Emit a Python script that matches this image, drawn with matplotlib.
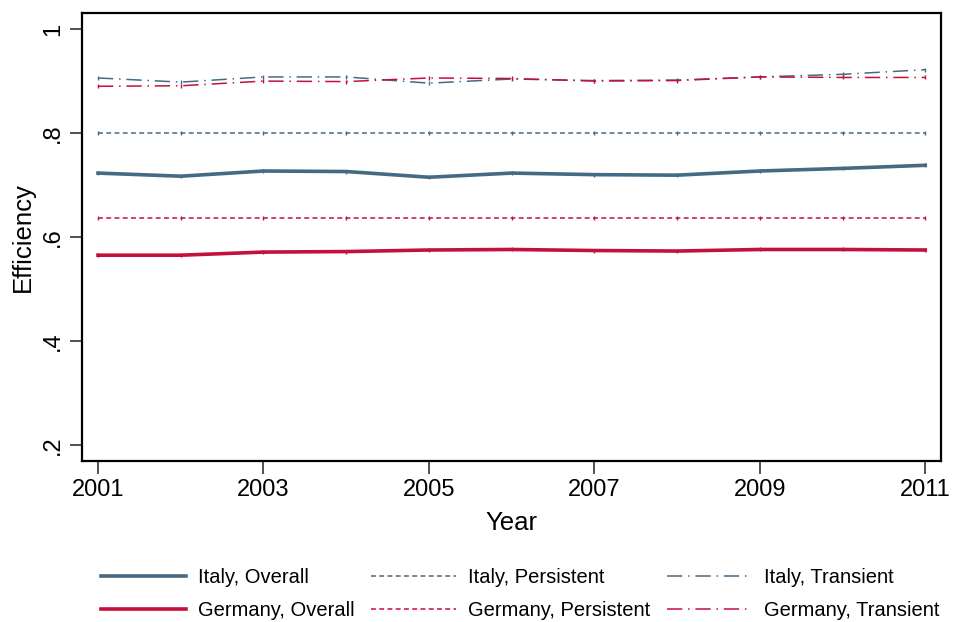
import matplotlib.pyplot as plt
from matplotlib.lines import Line2D

plt.rcParams['font.family'] = ['Liberation Sans', 'DejaVu Sans']

years = [2001, 2002, 2003, 2004, 2005, 2006, 2007, 2008, 2009, 2010, 2011]

italy_overall = [0.723, 0.717, 0.727, 0.726, 0.715, 0.723, 0.720, 0.719, 0.727, 0.732, 0.738]
germany_overall = [0.565, 0.565, 0.571, 0.572, 0.575, 0.576, 0.574, 0.573, 0.576, 0.576, 0.575]
italy_persistent = [0.800] * 11
germany_persistent = [0.636] * 11
italy_transient = [0.906, 0.898, 0.908, 0.908, 0.896, 0.904, 0.901, 0.902, 0.908, 0.913, 0.922]
germany_transient = [0.890, 0.891, 0.900, 0.899, 0.906, 0.905, 0.900, 0.901, 0.908, 0.907, 0.907]

y_ticks = [0.2, 0.4, 0.6, 0.8, 1.0]
y_ticklabels = ['.2', '.4', '.6', '.8', '1']
x_ticks = [2001, 2003, 2005, 2007, 2009, 2011]

blue = '#466a84'
red = '#c4103d'

fig = plt.figure(figsize=(9.56, 6.22), dpi=100)
ax = fig.add_axes([0.0858, 0.2588, 0.8985, 0.7203])

dash_p = (0, (3.2, 2.2))
dash_t = (0, (10, 3.8, 1, 3.8))

series = [
    (italy_overall, blue, '-', 2.6, 'Italy, Overall'),
    (germany_overall, red, '-', 2.6, 'Germany, Overall'),
    (italy_persistent, blue, dash_p, 1.1, 'Italy, Persistent'),
    (germany_persistent, red, dash_p, 1.1, 'Germany, Persistent'),
    (italy_transient, blue, dash_t, 1.1, 'Italy, Transient'),
    (germany_transient, red, dash_t, 1.1, 'Germany, Transient'),
]

handles = []
for vals, col, ls, lw, lab in series:
    ax.plot(years, vals, color=col, linestyle=ls, linewidth=lw,
            marker='|', markersize=3, markeredgewidth=1)
    handles.append(Line2D([], [], color=col, linestyle=ls, linewidth=lw, label=lab))

ax.set_xlim(2000.807, 2011.19)
ax.set_ylim(0.169, 1.031)
ax.set_xticks(x_ticks)
ax.set_xticklabels([str(y) for y in x_ticks], fontsize=17)
ax.set_yticks(y_ticks)
ax.set_yticklabels(y_ticklabels, fontsize=17, rotation=90, va='center')
ax.tick_params(axis='both', length=9, width=1.2, color='#333333', pad=4)
ax.set_xlabel('Year', fontsize=18.5, labelpad=7)
ax.set_ylabel('Efficiency', fontsize=18.5, labelpad=5)
for s in ax.spines.values():
    s.set_linewidth(1.6)
    s.set_color('black')

# two rows, three columns below the plot area
fig.legend(handles=handles, loc='upper left', bbox_to_anchor=(101 / 956, 0.0866),
           ncol=3, frameon=False, fontsize=14.5, borderpad=0, borderaxespad=0,
           handlelength=4.2, handletextpad=0.6, columnspacing=0.85,
           labelspacing=0.7)

fig.savefig('out.png', dpi=100)
